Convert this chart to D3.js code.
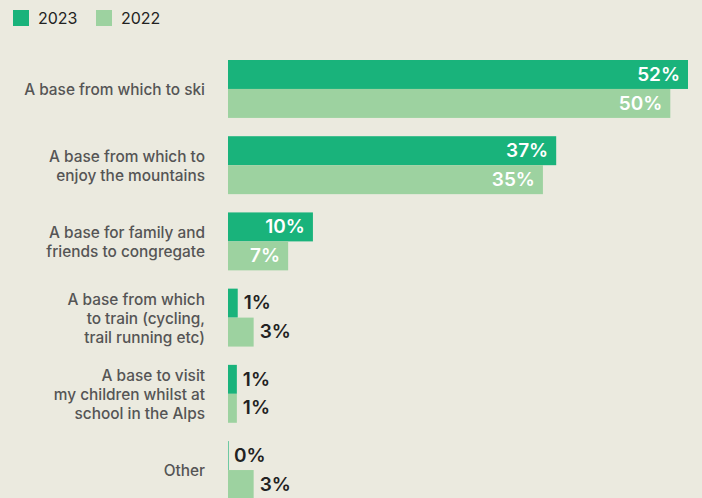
<!DOCTYPE html>
<html>
<head>
<meta charset="utf-8">
<script src="https://cdn.jsdelivr.net/npm/d3@7"></script>
<style>
  html, body { margin: 0; padding: 0; background: #ebeadf; }
  svg { display: block; font-family: Inter, "Noto Sans", sans-serif; }
</style>
</head>
<body>
<div id="chart"></div>
<script>
const categories = [
  ['A base from which to ski'],
  ['A base from which to', 'enjoy the mountains'],
  ['A base for family and', 'friends to congregate'],
  ['A base from which', 'to train (cycling,', 'trail running etc)'],
  ['A base to visit', 'my children whilst at', 'school in the Alps'],
  ['Other']
];
// bar lengths; labels as printed
const values2023 = [52, 37.1, 9.6, 1.1, 1, 0];
const values2022 = [50, 35.6, 6.8, 2.9, 1, 2.9];
const labels2023 = ['52%', '37%', '10%', '1%', '1%', '0%'];
const labels2022 = ['50%', '35%', '7%', '3%', '1%', '3%'];
const seriesNames = ['2023', '2022'];
const colors = ['#19b37b', '#9dd2a0'];

const width = 702, height = 498;

const svg = d3.select('#chart')
  .append('svg')
  .attr('width', width)
  .attr('height', height);

const yScale = d3.scaleBand()
  .domain(d3.range(categories.length))
  .range([60, 499])
  .paddingInner(0.24)
  .paddingOuter(0);

const xScale = d3.scaleLinear()
  .domain([0, 52])
  .range([228, 688]);

// legend
seriesNames.forEach((name, i) => {
  const lx = 13 + i * 83;
  svg.append('rect')
    .attr('x', lx).attr('y', 10)
    .attr('width', 16).attr('height', 16)
    .attr('fill', colors[i]);
  svg.append('text')
    .attr('x', lx + 25).attr('y', 24)
    .attr('font-size', 16)
    .attr('fill', '#222')
    .text(name);
});

// category labels
categories.forEach((lines, i) => {
  const cy = yScale(i) + yScale.bandwidth() / 2 + 2;
  const lh = 18.8;
  const t = svg.append('text')
    .attr('text-anchor', 'end')
    .attr('font-size', 15.4)
    .attr('font-weight', 500)
    .attr('fill', '#555555');
  lines.forEach((line, j) => {
    t.append('tspan')
      .attr('x', 205)
      .attr('y', cy - (lines.length - 1) * lh / 2 + j * lh)
      .attr('dominant-baseline', 'middle')
      .text(line);
  });
});

// bars
const series = [values2023, values2022];
const labels = [labels2023, labels2022];
const barH = yScale.bandwidth() / 2;
series.forEach((vals, s) => {
  vals.forEach((v, i) => {
    const y0 = yScale(i) + s * barH;
    const w = xScale(v) - xScale(0);
    svg.append('rect')
      .attr('x', xScale(0))
      .attr('y', y0)
      .attr('width', Math.max(w, 0.6))
      .attr('height', barH)
      .attr('fill', colors[s]);
    const inside = v >= 5;
    svg.append('text')
      .attr('x', inside ? xScale(v) - 8 : xScale(v) + 6)
      .attr('y', y0 + barH / 2 + 1)
      .attr('dominant-baseline', 'middle')
      .attr('text-anchor', inside ? 'end' : 'start')
      .attr('font-size', 19)
      .attr('font-weight', 600)
      .attr('fill', inside ? '#ffffff' : '#222222')
      .text(labels[s][i]);
  });
});
</script>
</body>
</html>
